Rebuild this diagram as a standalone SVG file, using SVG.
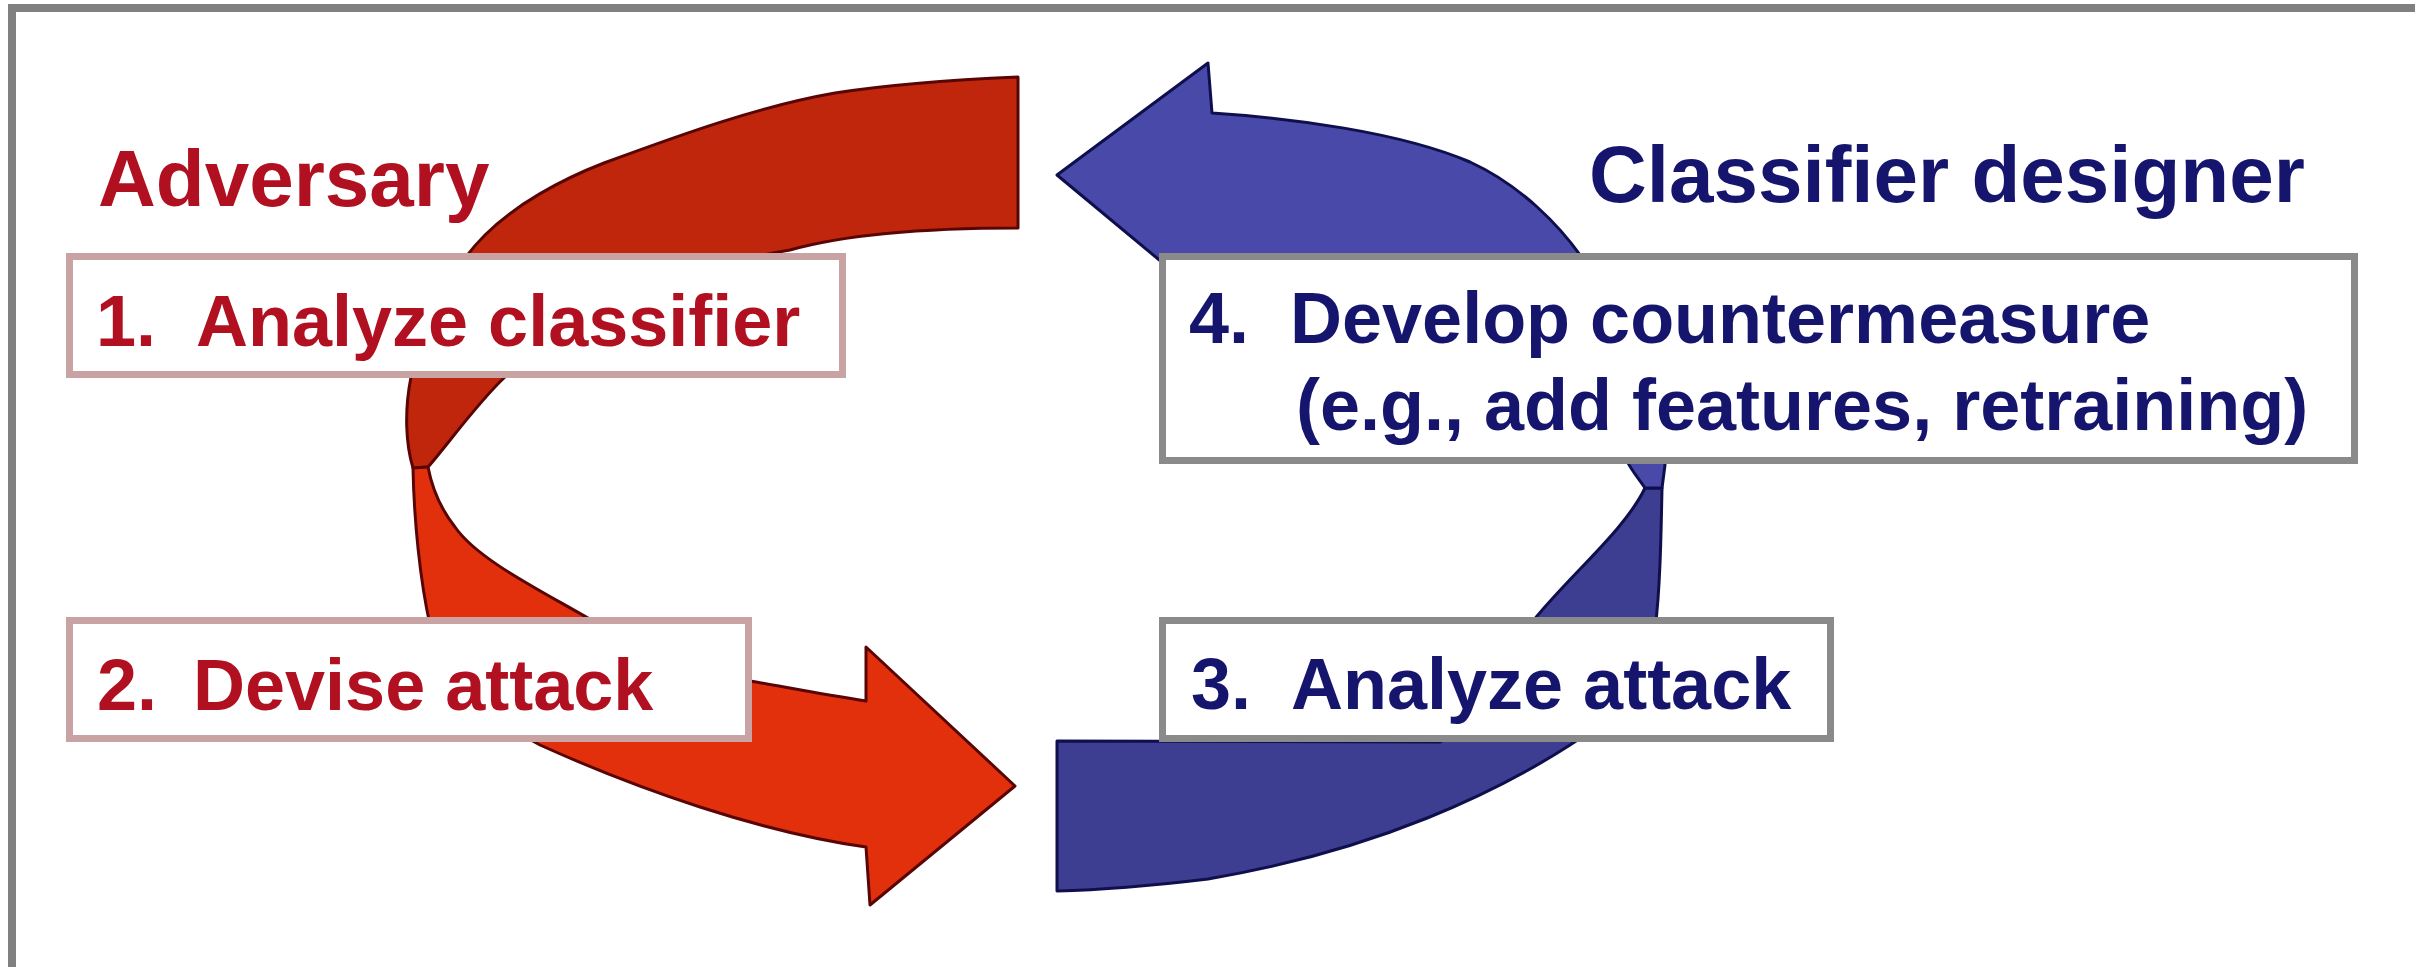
<svg xmlns="http://www.w3.org/2000/svg" width="2415" height="967" viewBox="0 0 2415 967">
<style>
.red-back{fill:#c0260c;stroke:#5a0505;stroke-width:3;stroke-linejoin:round}
.red-front{fill:#e2300c;stroke:#5a0505;stroke-width:3;stroke-linejoin:round}
.blue-back{fill:#3d3d92;stroke:#0f0f4d;stroke-width:3;stroke-linejoin:round}
.blue-front{fill:#4949a9;stroke:#0f0f4d;stroke-width:3;stroke-linejoin:round}
.box-red{fill:#ffffff;stroke:#c9a3a3;stroke-width:7}
.box-blue{fill:#ffffff;stroke:#8a8a8a;stroke-width:7}
.t{font-family:"Liberation Sans",Arial,sans-serif;font-weight:bold}
.t-red{fill:#b01020}
.t-blue{fill:#15156e}
.box-text{font-size:72px}
.title{font-size:80px}
</style>
<rect x="0" y="0" width="2415" height="967" fill="#ffffff"/>
<g id="frame" fill="#808080">
<rect x="8" y="4" width="2407" height="8"/>
<rect x="8" y="4" width="8" height="963"/>
</g>
<g id="connectors">
<path id="red-tail" class="red-back" d="M 1018 77 C 950 80, 880 86, 835 93 C 760 106, 680 135, 604 163 C 560 180, 515 205, 485 235 C 455 265, 422 320, 411 377 C 404 412, 406 445, 413 468 L 428 467 C 445 448, 478 402, 505 377 C 580 310, 700 265, 790 250 C 840 236, 920 228, 1018 228 Z"/>
<path id="red-head" class="red-front" d="M 413 468 C 414 520, 420 580, 430 625 C 450 680, 490 720, 540 745 C 640 790, 760 832, 866 847 L 870 905 L 1015 786 L 866 647 L 866 701 C 820 694, 785 687, 750 681 C 690 668, 640 650, 593 621 C 540 590, 478 560, 455 527 C 440 508, 432 488, 428 467 Z"/>
<path id="blue-tail" class="blue-back" d="M 1662 488 C 1661 540, 1660 590, 1655 630 C 1640 690, 1610 720, 1570 745 C 1500 790, 1380 850, 1208 879 C 1150 886, 1100 890, 1057 891 L 1057 741 L 1440 742 C 1480 720, 1510 660, 1533 621 C 1570 575, 1625 530, 1645 488 Z"/>
<path id="blue-head" class="blue-front" d="M 1057 175 L 1208 63 L 1212 113 C 1290 118, 1400 132, 1470 162 C 1520 185, 1560 225, 1585 262 C 1625 320, 1660 400, 1665 465 L 1662 488 L 1645 488 C 1638 478, 1630 468, 1627 461 C 1580 360, 1420 275, 1212 262 L 1205 298 Z"/>
</g>
<g id="node-adversary">
<text class="t t-red title" x="98" y="206">Adversary</text>
</g>
<g id="node-designer">
<text class="t t-blue title" x="1589" y="202">Classifier designer</text>
</g>
<g id="node-1">
<rect class="box-red" x="69.5" y="256.5" width="773" height="118"/>
<text class="t t-red box-text" y="346"><tspan x="96">1.</tspan><tspan x="196">Analyze classifier</tspan></text>
</g>
<g id="node-2">
<rect class="box-red" x="69.5" y="620.5" width="679" height="118"/>
<text class="t t-red box-text" y="710"><tspan x="97">2.</tspan><tspan x="193">Devise attack</tspan></text>
</g>
<g id="node-3">
<rect class="box-blue" x="1162.5" y="620.5" width="668" height="118"/>
<text class="t t-blue box-text" y="709"><tspan x="1191">3.</tspan><tspan x="1291">Analyze attack</tspan></text>
</g>
<g id="node-4">
<rect class="box-blue" x="1162.5" y="256.5" width="1192" height="204"/>
<text class="t t-blue box-text" y="343"><tspan x="1189">4.</tspan><tspan x="1290">Develop countermeasure</tspan></text>
<text class="t t-blue box-text" x="1296" y="430">(e.g., add features, retraining)</text>
</g>
</svg>
